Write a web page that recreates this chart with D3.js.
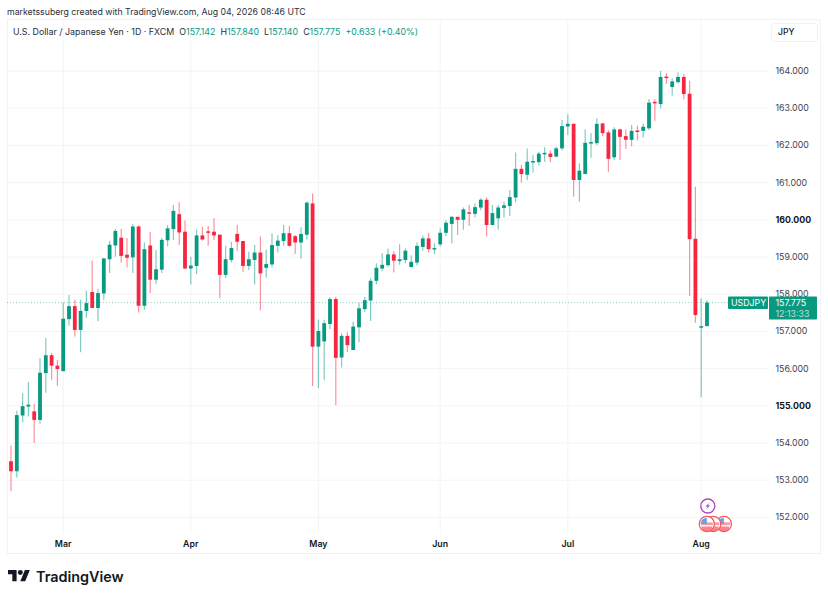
<!DOCTYPE html>
<html>
<head>
<meta charset="utf-8">
<script src="https://d3js.org/d3.v7.min.js"></script>
<style>
  html, body { margin: 0; padding: 0; background: #fff; }
  svg { display: block; }
  text { font-family: Inter, "Noto Sans", sans-serif; }
</style>
</head>
<body>
<script>
// daily USDJPY candles (Feb 19 -> Aug 4)
var opens = [153.51,153.24,154.74,154.98,154.85,154.62,155.88,156.36,156.08,155.93,
  157.33,157.68,157.04,157.55,158.06,157.63,158.02,158.94,159.31,159.52,
  159.06,158.99,159.82,157.69,159.31,158.39,158.66,159.45,159.75,160.15,
  159.68,158.69,158.76,159.58,159.69,159.68,159.60,158.52,158.92,159.62,
  159.43,158.76,158.92,159.12,158.71,158.80,159.30,159.43,159.64,159.56,
  159.39,159.60,160.44,156.59,156.73,157.20,157.87,156.30,156.88,156.50,
  157.11,157.60,157.83,158.36,158.69,158.78,159.07,158.89,158.92,158.73,
  158.85,159.27,159.50,159.21,159.34,159.65,159.89,160.08,160.00,160.20,
  160.16,160.33,160.54,159.86,160.04,160.32,160.37,160.60,161.37,161.21,
  161.54,161.55,161.76,161.78,161.70,161.92,162.51,162.58,161.07,161.23,
  162.05,162.06,162.59,162.35,161.68,162.43,162.25,162.15,162.40,162.39,
  162.46,163.17,163.11,163.85,163.57,163.70,163.84,163.39,159.49,157.10,157.142];
var highs = [153.93,154.87,155.34,155.64,155.05,156.28,156.82,156.42,156.24,157.78,
  157.98,157.85,157.85,158.09,158.90,158.14,158.97,159.44,159.75,159.75,
  159.51,159.89,159.85,159.39,159.67,159.19,159.51,159.86,160.40,160.47,
  159.98,159.01,159.74,159.81,159.83,160.04,159.60,159.30,159.40,159.86,
  159.43,159.14,159.32,159.55,159.20,159.64,159.59,159.86,159.83,159.59,
  159.80,160.49,160.71,157.32,157.31,157.92,157.93,156.95,156.98,157.26,
  157.77,157.93,158.43,158.83,159.10,159.23,159.16,159.34,159.23,159.05,
  159.39,159.58,159.65,159.37,159.77,159.99,160.10,160.08,160.33,160.40,
  160.44,160.58,160.60,160.40,160.40,160.49,160.80,161.81,161.47,161.92,
  161.74,161.83,161.95,161.86,161.97,162.68,162.84,162.59,161.52,162.43,
  162.33,162.73,162.61,162.41,162.49,162.45,162.43,162.55,162.53,162.59,
  163.25,163.24,164.00,163.94,163.80,163.96,163.92,163.74,160.89,157.89,157.840];
var lows = [152.70,153.07,154.55,154.71,154.00,154.52,155.35,155.70,155.54,155.93,
  157.15,156.86,156.44,157.37,157.63,157.27,157.85,158.57,159.01,158.85,
  158.72,158.57,157.51,157.58,158.03,158.28,158.57,159.29,159.46,159.32,
  158.67,158.26,158.54,159.44,159.30,159.46,157.89,158.44,158.85,159.16,
  158.60,158.65,158.26,157.57,158.45,158.72,159.12,159.30,159.28,159.08,
  158.96,159.47,155.53,155.48,155.69,157.06,155.02,156.03,156.44,156.50,
  156.71,157.53,157.28,158.27,158.62,158.74,158.58,158.79,158.83,158.72,
  158.78,159.17,159.12,159.08,159.28,159.56,159.37,159.59,159.73,159.83,
  160.06,160.26,159.55,159.86,159.74,160.06,160.11,160.47,161.00,161.07,
  161.27,161.46,161.56,161.55,161.68,161.86,162.28,160.62,160.49,161.23,
  161.67,162.01,162.25,161.29,161.61,161.61,161.90,161.98,162.13,162.21,
  162.41,162.66,163.00,163.65,163.34,163.66,163.24,157.95,157.23,155.23,157.140];
var closes = [153.24,154.75,154.99,155.03,154.62,155.89,156.36,156.08,155.99,157.34,
  157.68,157.04,157.55,157.76,157.63,158.03,158.96,159.33,159.70,159.03,
  158.98,159.82,157.69,159.21,158.39,158.67,159.46,159.77,160.24,159.66,
  158.69,158.77,159.58,159.47,159.65,159.58,158.52,158.94,159.24,159.41,
  158.76,158.94,159.12,158.56,158.81,159.32,159.44,159.64,159.30,159.39,
  159.62,160.46,156.59,157.01,157.22,157.87,156.29,156.88,156.63,157.13,
  157.62,157.84,158.36,158.71,158.79,159.07,158.90,158.94,159.17,158.87,
  159.30,159.50,159.21,159.24,159.65,159.92,160.08,160.00,160.28,160.17,
  160.34,160.54,159.86,160.18,160.33,160.39,160.61,161.37,161.23,161.56,
  161.58,161.78,161.80,161.69,161.92,162.52,162.58,161.07,161.32,162.07,
  162.09,162.58,162.33,161.64,162.43,162.23,162.15,162.39,162.36,162.50,
  163.15,163.13,163.84,163.81,163.72,163.84,163.38,159.48,157.44,157.14,157.775];

var priceTicks = [164,163,162,161,160,159,158,157,156,155,154,153,152];
var boldPrices = [160,155];
var monthBars = [9,31,53,74,96,119];
var monthLabels = ['Mar','Apr','May','Jun','Jul','Aug'];
var lastPrice = 157.775;

var WIDTH = 828, HEIGHT = 598;
var GREEN = '#089981', RED = '#f7253f', GRID = '#f3f4f6', FRAME = '#f1f2f4';

var svg = d3.select('body').append('svg')
  .attr('width', WIDTH)
  .attr('height', HEIGHT);

var x = d3.scaleLinear().domain([0, 120]).range([11, 707]);
var y = d3.scaleLinear().domain([164, 152]).range([71, 517.4]);

var plotLeft = 7, plotRight = 768, plotTop = 19, plotBottom = 534, frameRight = 820, frameBottom = 553;

// header line above the frame
svg.append('text')
  .attr('x', 7).attr('y', 15)
  .style('font-size', '8.75px')
  .style('fill', '#2a2e39')
  .text('marketssuberg created with TradingView.com, Aug 04, 2026 08:46 UTC');

// frame
svg.append('rect')
  .attr('x', plotLeft + 0.5).attr('y', plotTop + 0.5)
  .attr('width', frameRight - plotLeft).attr('height', frameBottom - plotTop)
  .attr('fill', 'none').attr('stroke', FRAME).attr('stroke-width', 1);

// grid
svg.append('g').selectAll('line')
  .data(priceTicks)
  .enter().append('line')
  .attr('x1', plotLeft).attr('x2', plotRight)
  .attr('y1', function (d) { return y(d); })
  .attr('y2', function (d) { return y(d); })
  .attr('stroke', GRID);

svg.append('g').selectAll('line')
  .data(monthBars)
  .enter().append('line')
  .attr('x1', function (d) { return x(d); })
  .attr('x2', function (d) { return x(d); })
  .attr('y1', plotTop).attr('y2', plotBottom)
  .attr('stroke', GRID);

// last price line
svg.append('line')
  .attr('x1', plotLeft).attr('x2', 728)
  .attr('y1', y(lastPrice)).attr('y2', y(lastPrice))
  .attr('stroke', GREEN).attr('stroke-opacity', 0.45)
  .attr('stroke-dasharray', '1 2');

// candles
var bars = d3.range(opens.length);

svg.append('g').selectAll('line')
  .data(bars)
  .enter().append('line')
  .attr('x1', function (i) { return x(i); })
  .attr('x2', function (i) { return x(i); })
  .attr('y1', function (i) { return y(highs[i]); })
  .attr('y2', function (i) { return y(lows[i]); })
  .attr('stroke', function (i) { return closes[i] >= opens[i] ? GREEN : RED; })
  .attr('stroke-opacity', 0.5)
  .attr('stroke-width', 1.2);

svg.append('g').selectAll('rect')
  .data(bars)
  .enter().append('rect')
  .attr('x', function (i) { return x(i) - 1.9; })
  .attr('width', 3.8)
  .attr('y', function (i) { return y(Math.max(opens[i], closes[i])); })
  .attr('height', function (i) { return Math.max(1.4, Math.abs(y(opens[i]) - y(closes[i]))); })
  .attr('fill', function (i) { return closes[i] >= opens[i] ? GREEN : RED; });

// price axis
var yAxis = d3.axisRight(y)
  .tickValues(priceTicks)
  .tickSize(0)
  .tickPadding(0)
  .tickFormat(d3.format('.3f'));

var yG = svg.append('g')
  .attr('transform', 'translate(775.5,-0.4)')
  .call(yAxis);
yG.select('.domain').remove();
yG.selectAll('text')
  .style('font-family', 'Inter, sans-serif')
  .style('font-size', '8.8px')
  .style('fill', function (d) { return boldPrices.indexOf(d) >= 0 ? '#131722' : '#3f434e'; })
  .style('font-weight', function (d) { return boldPrices.indexOf(d) >= 0 ? 700 : 400; });

// time axis
var xAxis = d3.axisBottom(x)
  .tickValues(monthBars)
  .tickSize(0)
  .tickPadding(0)
  .tickFormat(function (d, i) { return monthLabels[i]; });

var xG = svg.append('g')
  .attr('transform', 'translate(-0.5,540.8)')
  .call(xAxis);
xG.select('.domain').remove();
xG.selectAll('text')
  .style('font-family', 'Inter, sans-serif')
  .style('font-size', '8.8px')
  .style('font-weight', 600)
  .style('fill', '#131722');

// symbol line
var legend = svg.append('text')
  .attr('x', 13).attr('y', 34.5)
  .style('font-size', '8.85px')
  .style('fill', '#2a2e39');
legend.append('tspan').text('U.S. Dollar / Japanese Yen \u00b7 1D \u00b7 FXCM');
[['O', '157.142', 5], ['H', '157.840', 5], ['L', '157.140', 5], ['C', '157.775', 5]].forEach(function (p) {
  legend.append('tspan').attr('dx', p[2]).text(p[0]);
  legend.append('tspan').style('fill', GREEN).text(p[1]);
});
legend.append('tspan').attr('dx', 5).style('fill', GREEN).text('+0.633 (+0.40%)');

// currency button
svg.append('rect')
  .attr('x', 771.5).attr('y', 23.5)
  .attr('width', 46).attr('height', 18).attr('rx', 3)
  .attr('fill', '#fff').attr('stroke', '#f0f1f3');
svg.append('text')
  .attr('x', 778).attr('y', 35.2)
  .style('font-size', '8.6px').style('font-weight', 500)
  .style('fill', '#131722')
  .text('JPY');

// last price labels
svg.append('rect')
  .attr('x', 728).attr('y', y(lastPrice) - 6)
  .attr('width', 40).attr('height', 12.5)
  .attr('rx', 1).attr('fill', GREEN);
svg.append('text')
  .attr('x', 731).attr('y', y(lastPrice) + 3.6)
  .style('font-size', '8.8px').style('fill', '#fff')
  .text('USDJPY');
svg.append('rect')
  .attr('x', 769).attr('y', y(lastPrice) - 6)
  .attr('width', 48).attr('height', 23)
  .attr('rx', 1).attr('fill', GREEN);
svg.append('text')
  .attr('x', 775.5).attr('y', y(lastPrice) + 3.6)
  .style('font-size', '8.8px').style('fill', '#fff')
  .text('157.775');
svg.append('text')
  .attr('x', 775.5).attr('y', y(lastPrice) + 14)
  .style('font-size', '8.8px').style('fill', '#fff').style('fill-opacity', 0.72)
  .text('12:13:33');

// events: lightning and flags above the time axis
var events = svg.append('g');
events.append('circle')
  .attr('cx', x(119) + 6.6).attr('cy', 506)
  .attr('r', 7).attr('fill', '#fff')
  .attr('stroke', '#ab47bc').attr('stroke-width', 1.3);
events.append('path')
  .attr('transform', 'translate(' + (x(119) + 6.6) + ',506)')
  .attr('d', 'M1.8-3.6L-2.4 0.6H0L-1.8 3.6L2.4-0.6H0z')
  .attr('fill', '#7e57c2');

var flagX = [x(119) + 22.7, x(119) + 12, x(119) + 5.6];
flagX.forEach(function (cx) {
  var f = events.append('g').attr('transform', 'translate(' + cx + ',524)');
  f.append('circle').attr('r', 7.6).attr('fill', '#fff').attr('stroke', '#f7525f').attr('stroke-width', 1.2);
  f.append('path').attr('d', 'M-6 -1.6H6V1.2H-6z').attr('fill', '#f99a9d');
  f.append('path').attr('d', 'M-5.6 2.4H5.6A5.6 5.6 0 0 1 -5.6 2.4z').attr('fill', '#f7525f').attr('fill-opacity', 0.7);
  f.append('path').attr('d', 'M-6 0V-1.5A6 6 0 0 1 0 -6V0z').attr('fill', '#5aa8f2');
});

// logo
svg.append('g')
  .attr('transform', 'translate(8,567.6) scale(0.615)')
  .call(function (g) {
    g.append('path').attr('d', 'M14 22H7V11H0V4h14v18zM28 22h-8l7.5-18h8L28 22z').attr('fill', '#131722');
    g.append('circle').attr('cx', 20).attr('cy', 8).attr('r', 4).attr('fill', '#131722');
  });
svg.append('text')
  .attr('x', 36).attr('y', 581.5)
  .style('font-size', '14.4px').style('font-weight', 600)
  .style('fill', '#131722')
  .text('TradingView');
</script>
</body>
</html>
